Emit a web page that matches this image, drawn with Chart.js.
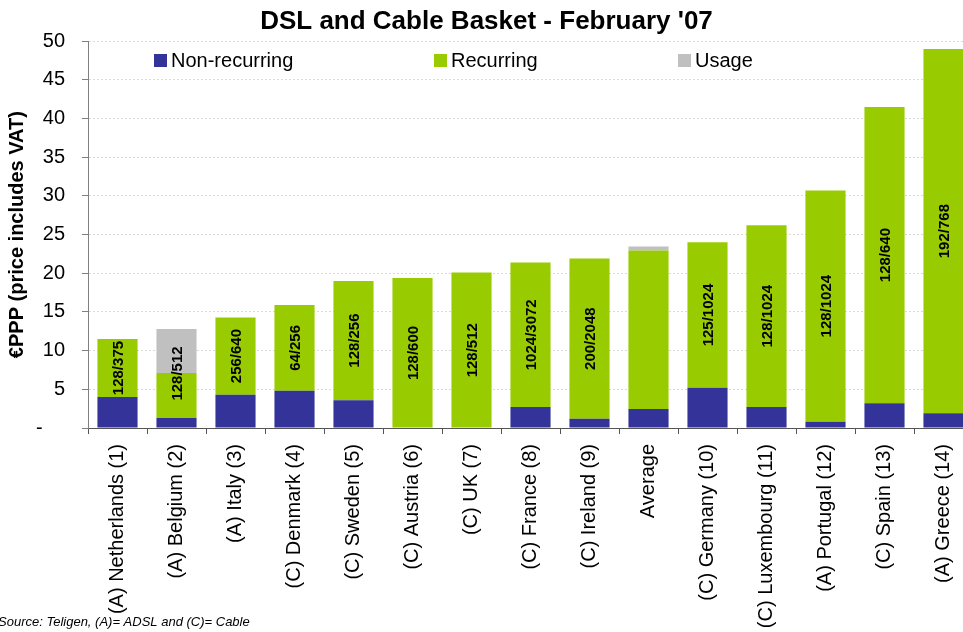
<!DOCTYPE html>
<html>
<head>
<meta charset="utf-8">
<title>DSL and Cable Basket - February '07</title>
<script src="https://cdn.jsdelivr.net/npm/chart.js@4.4.1/dist/chart.umd.min.js"></script>
<style>
    html, body { margin: 0; padding: 0; background: #fff; overflow: hidden; }
    #wrap { position: relative; width: 985px; height: 632px; }
</style>
</head>
<body>
<div id="wrap"><canvas id="basketChart"></canvas></div>
<script>
var categories = [
    '(A) Netherlands (1)', '(A) Belgium (2)', '(A) Italy (3)', '(C) Denmark (4)',
    '(C) Sweden (5)', '(C) Austria (6)', '(C) UK (7)', '(C) France (8)',
    '(C) Ireland (9)', 'Average', '(C) Germany (10)', '(C) Luxembourg (11)',
    '(A) Portugal (12)', '(C) Spain (13)', '(A) Greece (14)'
];
// EUR PPP, price includes VAT
var nonRecurring = [4.0, 1.3, 4.3, 4.8, 3.6, 0, 0, 2.7, 1.2, 2.45, 5.2, 2.7, 0.8, 3.2, 1.9];
var recurring = [7.5, 5.8, 10.0, 11.1, 15.4, 19.4, 20.1, 18.7, 20.7, 20.5, 18.8, 23.5, 29.9, 38.3, 47.1];
var usage = [0, 5.7, 0, 0, 0, 0, 0, 0, 0, 0.5, 0, 0, 0, 0, 0];
// down/up speed in kbit/s, written inside each bar
var speeds = ['128/375', '128/512', '256/640', '64/256', '128/256', '128/600', '128/512', '1024/3072',
    '200/2048', '', '125/1024', '128/1024', '128/1024', '128/640', '192/768'];
var yTicks = {min: 0, max: 50, step: 5};

Chart.defaults.font.family = '"Liberation Sans", Arial, sans-serif';
Chart.defaults.color = '#000';

// speed labels, centred on the recurring + usage part of the stack
var speedLabels = {
    id: 'speedLabels',
    afterDatasetsDraw: function (chart) {
        var c = chart.ctx;
        var yScale = chart.scales.y;
        var meta = chart.getDatasetMeta(1);
        c.save();
        c.font = 'bold 15px "Liberation Sans", Arial, sans-serif';
        c.fillStyle = '#000';
        c.textAlign = 'center';
        c.textBaseline = 'middle';
        for (var i = 0; i < speeds.length; i++) {
            if (!speeds[i]) {
                continue;
            }
            var mid = nonRecurring[i] + (recurring[i] + usage[i]) / 2;
            c.save();
            c.translate(meta.data[i].x, yScale.getPixelForValue(mid));
            c.rotate(-Math.PI / 2);
            c.fillText(speeds[i], 0, 1);
            c.restore();
        }
        c.restore();
    }
};

// legend sits inside the plot, under the top grid line
var insideLegend = {
    id: 'insideLegend',
    afterDraw: function (chart, args, opts) {
        var c = chart.ctx;
        var area = chart.chartArea;
        c.save();
        c.font = '20px "Liberation Sans", Arial, sans-serif';
        c.textBaseline = 'middle';
        c.textAlign = 'left';
        chart.data.datasets.forEach(function (ds, i) {
            var x = area.left + opts.xs[i];
            c.fillStyle = ds.backgroundColor;
            c.fillRect(x, opts.y - 6, 13, 13);
            c.fillStyle = '#000';
            c.fillText(ds.label, x + 17, opts.y + 1);
        });
        // source note, bottom left
        c.font = 'italic 13px "Liberation Sans", Arial, sans-serif';
        c.textBaseline = 'alphabetic';
        c.fillText('Source: Teligen, (A)= ADSL and (C)= Cable', -2, 626);
        c.restore();
    }
};

var ctx = document.getElementById('basketChart').getContext('2d');
var basketChart = new Chart(ctx, {
    type: 'bar',
    data: {
        labels: categories,
        datasets: [
            {label: 'Non-recurring', data: nonRecurring, backgroundColor: '#333399'},
            {label: 'Recurring', data: recurring, backgroundColor: '#99CC00'},
            {label: 'Usage', data: usage, backgroundColor: '#C0C0C0'}
        ]
    },
    options: {
        responsive: true,
        maintainAspectRatio: false,
        animation: false,
        layout: {padding: {left: 0, right: 12, top: 0, bottom: 0}},
        datasets: {
            bar: {categoryPercentage: 1.0, barPercentage: 0.68, borderWidth: 0}
        },
        plugins: {
            legend: {display: false},
            tooltip: {enabled: false},
            title: {
                display: true,
                text: "DSL and Cable Basket - February '07",
                font: {size: 26, weight: 'bold'},
                color: '#000',
                padding: {top: 6, bottom: 4}
            },
            insideLegend: {xs: [66, 346, 590], y: 60}
        },
        scales: {
            x: {
                stacked: true,
                offset: true,
                grid: {offset: true, drawOnChartArea: false, tickLength: 6, tickColor: '#555'},
                border: {color: '#555'},
                ticks: {font: {size: 20}, minRotation: 90, maxRotation: 90, autoSkip: false, padding: 10},
                afterFit: function (scale) {
                    scale.height = 204;
                }
            },
            y: {
                stacked: true,
                min: yTicks.min,
                max: yTicks.max,
                ticks: {
                    stepSize: yTicks.step,
                    font: {size: 20},
                    padding: 17,
                    callback: function (v) {
                        return v === 0 ? '-    ' : v;
                    }
                },
                grid: {color: '#dadada', tickLength: 6, tickColor: '#808080'},
                border: {color: '#808080', dash: [2, 2]},
                title: {
                    display: true,
                    text: '€PPP (price includes VAT)',
                    font: {size: 20, weight: 'bold'},
                    padding: {top: 5, bottom: 4}
                },
                afterFit: function (scale) {
                    scale.width = 88;
                }
            }
        }
    },
    plugins: [speedLabels, insideLegend]
});
</script>
</body>
</html>
